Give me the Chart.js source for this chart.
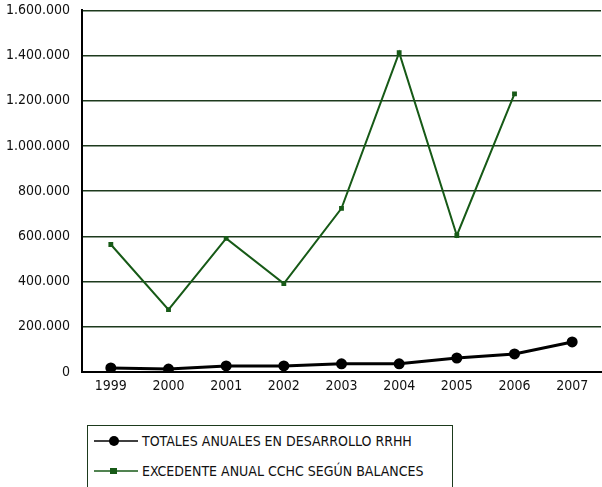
<!DOCTYPE html>
<html>
<head>
<meta charset="utf-8">
<script src="https://cdn.jsdelivr.net/npm/chart.js@4.4.1/dist/chart.umd.min.js"></script>
<style>
  body { margin: 0; background: #fff; overflow: hidden; width: 602px; height: 487px; position: relative; }
  #chart { position: absolute; left: 0; top: -10px; }
  #legend { position: absolute; left: 87px; top: 425px; width: 364px; height: 70px;
            border: 1.5px solid #1d3a1d; font-family: "DejaVu Sans Condensed", sans-serif;
            font-size: 14px; color: #111; }
  .item { position: absolute; left: 6px; height: 20px; line-height: 20px; }
  .item canvas { position: absolute; left: 0; top: 0; }
  .item span { position: absolute; left: 48px; white-space: nowrap; }
</style>
</head>
<body>
<canvas id="chart" width="608" height="407"></canvas>
<div id="legend">
  <div class="item" style="top:5px"><canvas id="lg1" width="44" height="20"></canvas><span id="t1"></span></div>
  <div class="item" style="top:35px"><canvas id="lg2" width="44" height="20"></canvas><span id="t2"></span></div>
</div>
<script>
// data
const years = ['1999','2000','2001','2002','2003','2004','2005','2006','2007'];
const totalesRRHH = [18000, 13000, 27000, 27000, 36000, 36000, 62000, 80000, 133000];
const excedenteCCHC = [564000, 276000, 591000, 391000, 724000, 1413000, 604000, 1231000, null];
const seriesNames = ['TOTALES ANUALES EN DESARROLLO RRHH', 'EXCEDENTE ANUAL CCHC SEGÚN BALANCES'];
const yTicks = [0, 200000, 400000, 600000, 800000, 1000000, 1200000, 1400000, 1600000];

const FONT = '"DejaVu Sans Condensed", sans-serif';
const GREEN = '#175a17';
const GRID = '#1d3a1d';

const fmt = v => String(v).replace(/\B(?=(\d{3})+(?!\d))/g, '.');

const ctx = document.getElementById('chart').getContext('2d');
const chart = new Chart(ctx, {
    type: 'line',
    data: {
        labels: years,
        datasets: [
            {
                label: seriesNames[1],
                data: excedenteCCHC,
                borderColor: GREEN,
                backgroundColor: GREEN,
                borderWidth: 2,
                pointRadius: 2,
                pointStyle: 'rect',
                tension: 0
            },
            {
                label: seriesNames[0],
                data: totalesRRHH,
                borderColor: '#000',
                backgroundColor: '#000',
                borderWidth: 3,
                pointRadius: 4,
                tension: 0
            }
        ]
    },
    options: {
        responsive: false,
        animation: false,
        layout: { padding: { top: 0, right: 0, left: 0, bottom: 0 } },
        plugins: { legend: { display: false }, tooltip: { enabled: false } },
        scales: {
            x: {
                offset: true,
                grid: { display: false, drawTicks: false },
                border: { display: true, color: '#000', width: 2 },
                ticks: { color: '#111', font: { family: FONT, size: 14 }, padding: 6 },
                afterFit: s => { s.height = 25; }
            },
            y: {
                min: 0,
                max: 1600000,
                afterBuildTicks: s => { s.ticks = yTicks.map(v => ({ value: v })); },
                grid: { color: GRID, lineWidth: 1.5, drawTicks: false },
                border: { display: true, color: '#000', width: 2 },
                ticks: { color: '#111', font: { family: FONT, size: 14 }, padding: 12, callback: v => fmt(v) },
                afterFit: s => { s.width = 82; }
            }
        }
    }
});

// legend samples
document.getElementById('t1').textContent = seriesNames[0];
document.getElementById('t2').textContent = seriesNames[1];
const l1 = document.getElementById('lg1').getContext('2d');
l1.strokeStyle = '#000'; l1.lineWidth = 1.5;
l1.beginPath(); l1.moveTo(0, 10); l1.lineTo(44, 10); l1.stroke();
l1.fillStyle = '#000'; l1.beginPath(); l1.arc(20, 10, 5, 0, Math.PI * 2); l1.fill();
const l2 = document.getElementById('lg2').getContext('2d');
l2.strokeStyle = GREEN; l2.lineWidth = 1.5;
l2.beginPath(); l2.moveTo(0, 10); l2.lineTo(44, 10); l2.stroke();
l2.fillStyle = GREEN; l2.fillRect(16, 7, 7, 6);
</script>
</body>
</html>
